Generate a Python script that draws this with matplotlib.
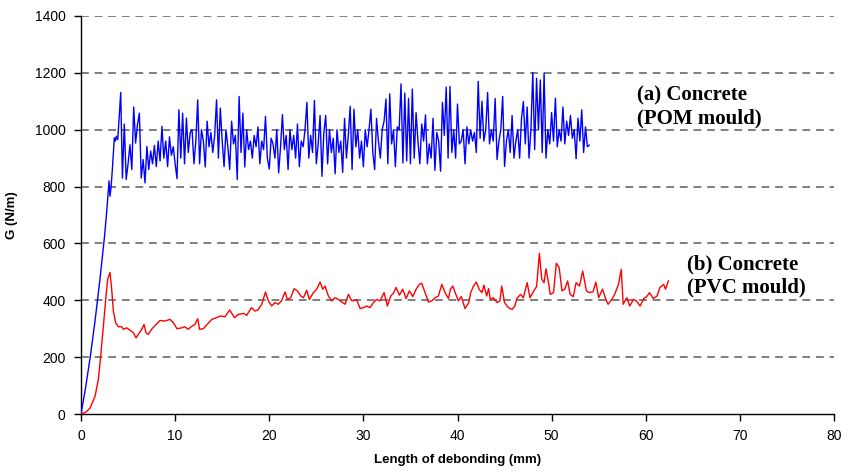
import numpy as np
import matplotlib
matplotlib.use("Agg")
import matplotlib.pyplot as plt

# (a) Concrete, POM mould - initial rise then noisy plateau
pom_rise_x = [0.0, 0.5, 1.0, 1.5, 2.0, 2.5, 2.75, 2.98, 3.08, 3.2, 3.35, 3.54, 3.65, 3.75, 3.9, 4.07, 4.22]
pom_rise_g = [0, 95, 205, 330, 470, 625, 720, 820, 766, 800, 870, 971, 960, 977, 965, 1050, 1131]

# plateau sampled every 0.2 mm from 4.4 to 54.0 mm
pom_body_g = [
    830, 1020, 825, 880, 947, 860, 1080, 953, 1018, 1058,
    830, 895, 813, 941, 860, 925, 880, 945, 870, 960,
    890, 1012, 900, 960, 870, 975, 910, 940, 880, 828,
    1070, 900, 1058, 880, 1041, 920, 990, 1000, 880, 960,
    1105, 880, 1000, 960, 869, 1030, 940, 990, 920, 980,
    1105, 900, 1076, 960, 870, 1000, 940, 860, 1030, 950,
    980, 825, 1117, 920, 1058, 869, 1000, 930, 960, 900,
    980, 940, 1010, 880, 960, 930, 1047, 900, 862, 970,
    950, 900, 1000, 848, 940, 1053, 930, 980, 860, 1000,
    930, 980, 900, 1020, 870, 960, 940, 1000, 1096, 900,
    980, 920, 1103, 880, 950, 1050, 836, 990, 1050, 880,
    1000, 920, 970, 845, 1000, 920, 960, 850, 1040, 900,
    980, 1082, 860, 1072, 940, 1000, 900, 960, 870, 1000,
    940, 1000, 1072, 920, 860, 1040, 960, 900, 1000, 1030,
    1108, 880, 1126, 950, 1000, 870, 1010, 1000, 1161, 883,
    1129, 890, 1110, 880, 1143, 900, 1060, 960, 880, 1020,
    960, 1052, 880, 950, 900, 1040, 857, 990, 960, 854,
    1096, 980, 1150, 900, 1152, 920, 1000, 900, 1090, 950,
    960, 1000, 880, 1010, 950, 1000, 960, 990, 920, 1170,
    970, 1100, 960, 1000, 1131, 950, 1000, 960, 1110, 895,
    960, 1000, 1117, 871, 960, 1000, 920, 1050, 900, 960,
    1000, 900, 1040, 1099, 950, 1080, 900, 1000, 1201, 930,
    1181, 1000, 1175, 920, 1199, 900, 1000, 950, 1060, 960,
    1111, 940, 1000, 960, 1080, 950, 1030, 980, 1050, 970,
    1000, 898, 1040, 960, 1070, 920, 1010, 940, 946,
]

# (b) Concrete, PVC mould
pvc_x = [
    0.0, 0.5, 0.96, 1.49, 1.84, 2.09, 2.37, 2.66, 2.83, 3.08, 3.26, 3.44, 3.68, 3.97,
    4.32, 4.5, 4.85, 5.2, 5.56, 5.85, 6.09, 6.45, 6.7, 6.9, 7.15, 7.5, 7.97, 8.4,
    8.93, 9.46, 9.81, 10.2, 10.7, 11.0, 11.4, 11.7, 12.1, 12.4, 12.6, 13.0, 13.4,
    13.9, 14.4, 14.8, 15.3, 15.8, 16.3, 16.7, 17.3, 17.6, 18.1, 18.5, 18.8, 19.2,
    19.6, 19.9, 20.26, 20.6, 20.97, 21.3, 21.68, 21.93, 22.28, 22.64, 22.99, 23.35,
    23.63, 23.98, 24.26, 24.69, 25.04, 25.4, 25.68, 25.93, 26.28, 26.64, 26.99,
    27.35, 27.7, 28.06, 28.41, 28.76, 29.3, 29.65, 30.0, 30.36, 30.71, 31.07, 31.42,
    31.77, 32.2, 32.55, 32.91, 33.19, 33.47, 33.83, 34.18, 34.54, 34.89, 35.25, 35.6,
    35.95, 36.2, 36.56, 36.91, 37.27, 37.62, 37.97, 38.33, 38.68, 39.04, 39.25, 39.5,
    39.75, 40.1, 40.4, 40.8, 41.2, 41.4, 41.7, 42.0, 42.3, 42.6, 42.8, 43.1, 43.3,
    43.5, 43.8, 44.2, 44.5, 44.7, 45.0, 45.4, 45.8, 46.1, 46.3, 46.7, 47.0, 47.4,
    47.7, 48.1, 48.4, 48.7, 48.95, 49.2, 49.4, 49.7, 49.85, 50.2, 50.5, 50.8, 51.1,
    51.4, 51.7, 51.97, 52.3, 52.6, 52.96, 53.3, 53.7, 54.0, 54.4, 54.7, 55.0, 55.4,
    55.8, 56.0, 56.4, 56.7, 57.1, 57.4, 57.6, 57.99, 58.3, 58.7, 59.0, 59.4, 59.8,
    60.1, 60.4, 60.8, 61.2, 61.5, 61.9, 62.1, 62.4,
]
pvc_g = [
    0, 6, 21, 62, 121, 203, 309, 415, 474, 498, 439, 362, 321, 307,
    307, 298, 303, 295, 286, 268, 280, 298, 315, 286, 280, 298, 315, 329,
    327, 333, 321, 300, 303, 307, 298, 307, 315, 335, 298, 300, 315,
    333, 339, 345, 342, 366, 339, 350, 354, 347, 374, 362, 366, 386,
    429, 398, 380, 392, 386, 398, 429, 403, 409, 441, 433, 415,
    409, 435, 403, 427, 439, 464, 439, 450, 415, 398, 409,
    403, 394, 386, 421, 398, 401, 371, 374, 380, 374, 392, 403,
    398, 427, 380, 415, 425, 445, 418, 439, 406, 433, 413, 439,
    456, 460, 427, 394, 398, 409, 415, 456, 427, 406, 439, 450,
    427, 398, 413, 371, 392, 427, 450, 464, 439, 427, 453, 415, 441,
    403, 409, 392, 398, 450, 392, 374, 368, 380, 406, 421, 409, 462,
    409, 433, 448, 565, 474, 462, 511, 456, 421, 427, 530, 515, 433,
    439, 468, 421, 413, 462, 450, 503, 433, 427, 430, 464, 409, 439,
    400, 386, 403, 421, 456, 509, 386, 409, 380, 403, 398, 380, 406,
    413, 427, 406, 415, 445, 456, 439, 468,
]

x_ticks = [0, 10, 20, 30, 40, 50, 60, 70, 80]
y_ticks = [0, 200, 400, 600, 800, 1000, 1200, 1400]

pom_x = np.concatenate([pom_rise_x, np.linspace(4.4, 54.0, len(pom_body_g))])
pom_g = np.concatenate([pom_rise_g, pom_body_g])

plt.rcParams['font.family'] = ['Liberation Sans', 'DejaVu Sans']

fig = plt.figure(figsize=(8.51, 4.74), dpi=100)
ax = fig.add_axes([81 / 851, 1 - 414 / 474, (834 - 81) / 851, (414 - 16) / 474])

for yv in y_ticks[1:]:
    ax.axhline(yv, color='#7f7f7f', linestyle=(0, (4, 3)), linewidth=1.4, zorder=1)

ax.plot(pom_x, pom_g, color='#0000ff', linewidth=1.0, zorder=3)
ax.plot(pvc_x, pvc_g, color='#ff0000', linewidth=1.0, zorder=3)

ax.set_xlim(0, 80)
ax.set_ylim(0, 1400)
ax.set_xticks(x_ticks)
ax.set_yticks(y_ticks)
ax.tick_params(axis='both', direction='out', length=5, width=1, labelsize=10, pad=6)
for s in ['top', 'right']:
    ax.spines[s].set_visible(False)
for s in ['left', 'bottom']:
    ax.spines[s].set_linewidth(1.0)
    ax.spines[s].set_color('black')

ax.set_xlabel('Length of debonding (mm)', fontsize=9.5, fontweight='bold', labelpad=8)
ax.set_ylabel('G (N/m)', fontsize=9.5, fontweight='bold', labelpad=12)

serif = ['Liberation Serif', 'DejaVu Serif']
ax.text(59.1, 1080, '(a) Concrete\n(POM mould)', family=serif, fontsize=15,
        fontweight='bold', va='center', ha='left', linespacing=1.2)
ax.text(64.4, 487, '(b) Concrete\n(PVC mould)', family=serif, fontsize=15,
        fontweight='bold', va='center', ha='left', linespacing=1.2)

fig.savefig('out.png', dpi=100)
